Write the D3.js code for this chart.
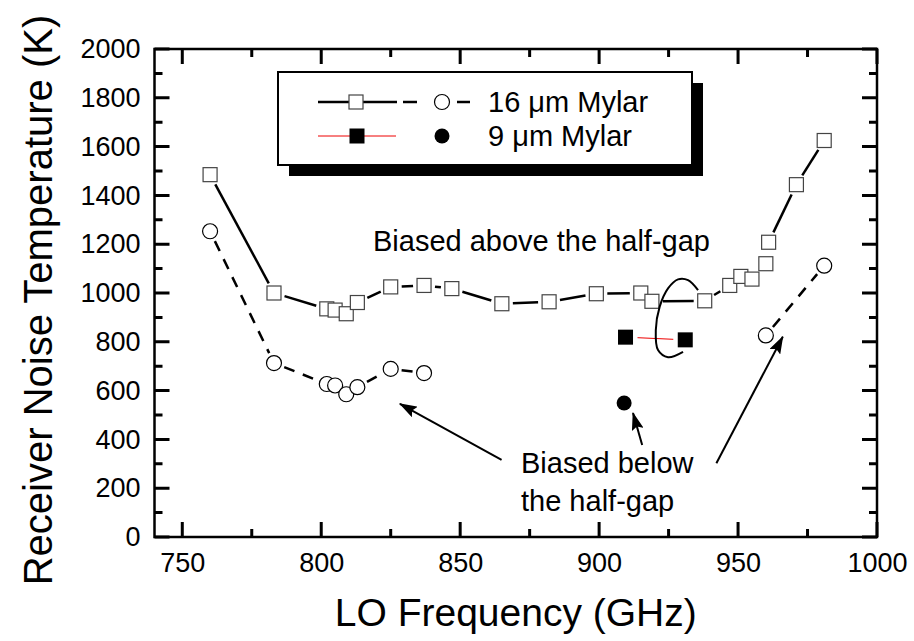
<!DOCTYPE html>
<html>
<head>
<meta charset="utf-8">
<script src="https://cdn.jsdelivr.net/npm/d3@7"></script>
<style>
  body { margin: 0; background: #fff; }
  svg text { font-family: "Liberation Sans", Arial, sans-serif; fill: #000; }
</style>
</head>
<body>
<div id="chart"></div>
<script>
// 16 um Mylar, biased above the half-gap (open squares, solid line)
const sqFreq = [760, 783, 802, 805, 809, 813, 825, 837, 847, 865, 882, 899, 915, 919, 938, 947, 951, 955, 960, 961, 971, 981];
const sqTemp = [1485, 1000, 935, 930, 915, 961, 1025, 1031, 1018, 956, 964, 997, 1000, 966, 968, 1031, 1068, 1057, 1120, 1208, 1444, 1625];

// 16 um Mylar, biased below the half-gap (open circles, dashed line), two runs
const circFreq = [760, 783, 802, 805, 809, 813, 825, 837, 960, 981];
const circTemp = [1253, 713, 627, 621, 585, 614, 689, 672, 826, 1112];
const circRun  = [0, 0, 0, 0, 0, 0, 0, 0, 1, 1];

// 9 um Mylar
const fsqFreq = [909.5, 931];
const fsqTemp = [819, 808];
const fcircFreq = [909];
const fcircTemp = [549];

// annotation loop round the 9 um points (data units)
const loopFreq = [930.2, 924.8, 921.2, 920.4, 921.8, 924.8, 928.4, 932, 935.6];
const loopTemp = [759, 737, 766, 848, 944, 1019, 1056, 1053, 1012];

// arrows: [tailFreq, tailTemp, tipFreq, tipTemp]
const arrows = [
  [864.9, 316, 828.3, 546],
  [915.5, 377, 912.2, 508],
  [942.2, 302, 966.1, 821]
];

const xTicks = [750, 800, 850, 900, 950, 1000];
const xMinor = [775, 825, 875, 925, 975];
const yTicks = [0, 200, 400, 600, 800, 1000, 1200, 1400, 1600, 1800, 2000];
const yMinor = [100, 300, 500, 700, 900, 1100, 1300, 1500, 1700, 1900];

const W = 914, H = 641;
const L = 154.5, R = 877, T = 49, B = 537;

const svg = d3.select("#chart").append("svg")
    .attr("width", W).attr("height", H);

const x = d3.scaleLinear().domain([740, 1000]).range([L, R]);
const y = d3.scaleLinear().domain([0, 2000]).range([B, T]);

svg.append("defs").append("marker")
    .attr("id", "head")
    .attr("viewBox", "0 0 18 12")
    .attr("refX", 17).attr("refY", 6)
    .attr("markerWidth", 18).attr("markerHeight", 12)
    .attr("markerUnits", "userSpaceOnUse")
    .attr("orient", "auto")
  .append("path")
    .attr("d", "M0,0L18,6L0,12L3,6Z")
    .attr("fill", "#000");

// tick labels
const fmt = d3.format("d");
svg.append("g").attr("transform", `translate(0,${B})`)
    .call(d3.axisBottom(x).tickValues(xTicks).tickSize(0).tickPadding(16).tickFormat(fmt))
    .call(g => g.select(".domain").remove())
    .call(g => g.selectAll("text").attr("font-size", 27).attr("font-family", "Liberation Sans, Arial, sans-serif"));
svg.append("g").attr("transform", `translate(${L},0)`)
    .call(d3.axisLeft(y).tickValues(yTicks).tickSize(0).tickPadding(14).tickFormat(fmt))
    .call(g => g.select(".domain").remove())
    .call(g => g.selectAll("text").attr("font-size", 27).attr("font-family", "Liberation Sans, Arial, sans-serif"));

// axis titles
svg.append("text")
    .attr("x", (L + R) / 2).attr("y", 626)
    .attr("text-anchor", "middle").attr("font-size", 39)
    .text("LO Frequency (GHz)");
svg.append("text")
    .attr("transform", `translate(52,300) rotate(-90)`)
    .attr("text-anchor", "middle").attr("font-size", 40)
    .text("Receiver Noise Temperature (K)");

// connecting segments that stop short of the markers
function segments(px, py, gap) {
  const out = [];
  for (let i = 0; i < px.length - 1; i++) {
    const x1 = px[i], y1 = py[i], x2 = px[i + 1], y2 = py[i + 1];
    const len = Math.hypot(x2 - x1, y2 - y1);
    if (len < 2 * gap + 2) continue;
    const ux = (x2 - x1) / len, uy = (y2 - y1) / len;
    out.push([x1 + ux * gap, y1 + uy * gap, x2 - ux * gap, y2 - uy * gap]);
  }
  return out;
}

const lineG = svg.append("g");

const sqSegs = segments(sqFreq.map(x), sqTemp.map(y), 11);
lineG.selectAll(null).data(sqSegs).enter().append("line")
    .attr("x1", d => d[0]).attr("y1", d => d[1])
    .attr("x2", d => d[2]).attr("y2", d => d[3])
    .attr("stroke", "#000").attr("stroke-width", 2.5);

[0, 1].forEach(run => {
  const idx = circRun.map((r, i) => r === run ? i : -1).filter(i => i >= 0);
  const segs = segments(idx.map(i => x(circFreq[i])), idx.map(i => y(circTemp[i])), 11);
  lineG.selectAll(null).data(segs).enter().append("line")
      .attr("x1", d => d[0]).attr("y1", d => d[1])
      .attr("x2", d => d[2]).attr("y2", d => d[3])
      .attr("stroke", "#000").attr("stroke-width", 2.5)
      .attr("stroke-dasharray", "11,9");
});

const fSegs = segments(fsqFreq.map(x), fsqTemp.map(y), 12);
lineG.selectAll(null).data(fSegs).enter().append("line")
    .attr("x1", d => d[0]).attr("y1", d => d[1])
    .attr("x2", d => d[2]).attr("y2", d => d[3])
    .attr("stroke", "#e00").attr("stroke-width", 1);

// markers
const mk = svg.append("g");
mk.selectAll(null).data(sqFreq).enter().append("rect")
    .attr("x", d => x(d) - 7).attr("y", (d, i) => y(sqTemp[i]) - 7)
    .attr("width", 14).attr("height", 14)
    .attr("fill", "#fff").attr("stroke", "#444").attr("stroke-width", 1.2);
mk.selectAll(null).data(circFreq).enter().append("circle")
    .attr("cx", d => x(d)).attr("cy", (d, i) => y(circTemp[i])).attr("r", 7.5)
    .attr("fill", "#fff").attr("stroke", "#000").attr("stroke-width", 1.2);
mk.selectAll(null).data(fsqFreq).enter().append("rect")
    .attr("x", d => x(d) - 7.5).attr("y", (d, i) => y(fsqTemp[i]) - 7.5)
    .attr("width", 15).attr("height", 15).attr("fill", "#000");
mk.selectAll(null).data(fcircFreq).enter().append("circle")
    .attr("cx", d => x(d)).attr("cy", (d, i) => y(fcircTemp[i])).attr("r", 7.5)
    .attr("fill", "#000");

// loop and arrows
svg.append("path")
    .datum(loopFreq.map((f, i) => [f, loopTemp[i]]))
    .attr("d", d3.line().x(d => x(d[0])).y(d => y(d[1])).curve(d3.curveCatmullRom))
    .attr("fill", "none").attr("stroke", "#000").attr("stroke-width", 2);

svg.selectAll(null).data(arrows).enter().append("line")
    .attr("x1", d => x(d[0])).attr("y1", d => y(d[1]))
    .attr("x2", d => x(d[2])).attr("y2", d => y(d[3]))
    .attr("stroke", "#000").attr("stroke-width", 2)
    .attr("marker-end", "url(#head)");

// annotations
svg.append("text").attr("x", 373).attr("y", 251).attr("font-size", 29)
    .text("Biased above the half-gap");
svg.append("text").attr("x", 521).attr("y", 473).attr("font-size", 29)
    .text("Biased below");
svg.append("text").attr("x", 521).attr("y", 511).attr("font-size", 29)
    .text("the half-gap");

// legend
const lg = svg.append("g");
lg.append("rect").attr("x", 289).attr("y", 83).attr("width", 414).attr("height", 93).attr("fill", "#000");
lg.append("rect").attr("x", 278).attr("y", 72).attr("width", 414).attr("height", 93)
    .attr("fill", "#fff").attr("stroke", "#000").attr("stroke-width", 2);

lg.append("line").attr("x1", 318).attr("x2", 397).attr("y1", 102).attr("y2", 102)
    .attr("stroke", "#000").attr("stroke-width", 2.5);
lg.append("rect").attr("x", 349).attr("y", 95).attr("width", 14).attr("height", 14)
    .attr("fill", "#fff").attr("stroke", "#444").attr("stroke-width", 1.2);
lg.append("line").attr("x1", 403).attr("x2", 417).attr("y1", 102).attr("y2", 102)
    .attr("stroke", "#000").attr("stroke-width", 2.5);
lg.append("line").attr("x1", 457).attr("x2", 470).attr("y1", 102).attr("y2", 102)
    .attr("stroke", "#000").attr("stroke-width", 2.5);
lg.append("circle").attr("cx", 442).attr("cy", 102).attr("r", 7.5)
    .attr("fill", "#fff").attr("stroke", "#000").attr("stroke-width", 1.2);
lg.append("text").attr("x", 488).attr("y", 112).attr("font-size", 29).text("16 μm Mylar");

lg.append("line").attr("x1", 318).attr("x2", 396).attr("y1", 136).attr("y2", 136)
    .attr("stroke", "#e00").attr("stroke-width", 1);
lg.append("rect").attr("x", 349.5).attr("y", 128.5).attr("width", 15).attr("height", 15).attr("fill", "#000");
lg.append("circle").attr("cx", 442).attr("cy", 136).attr("r", 7.5).attr("fill", "#000");
lg.append("text").attr("x", 488).attr("y", 146).attr("font-size", 29).text("9 μm Mylar");

// frame and inward ticks on all four sides, drawn last
svg.append("rect")
    .attr("x", L).attr("y", T).attr("width", R - L).attr("height", B - T)
    .attr("fill", "none").attr("stroke", "#000").attr("stroke-width", 2.5);

const MAJ = 15, MIN = 8;
let tickPath = "";
xTicks.forEach(d => { tickPath += `M${x(d)},${B}V${B - MAJ}M${x(d)},${T}V${T + MAJ}`; });
xMinor.forEach(d => { tickPath += `M${x(d)},${B}V${B - MIN}M${x(d)},${T}V${T + MIN}`; });
yTicks.forEach(d => { tickPath += `M${L},${y(d)}H${L + MAJ}M${R},${y(d)}H${R - MAJ}`; });
yMinor.forEach(d => { tickPath += `M${L},${y(d)}H${L + MIN}M${R},${y(d)}H${R - MIN}`; });
svg.append("path")
    .attr("d", tickPath)
    .attr("fill", "none")
    .attr("stroke", "#000")
    .attr("stroke-width", 3);
</script>
</body>
</html>
